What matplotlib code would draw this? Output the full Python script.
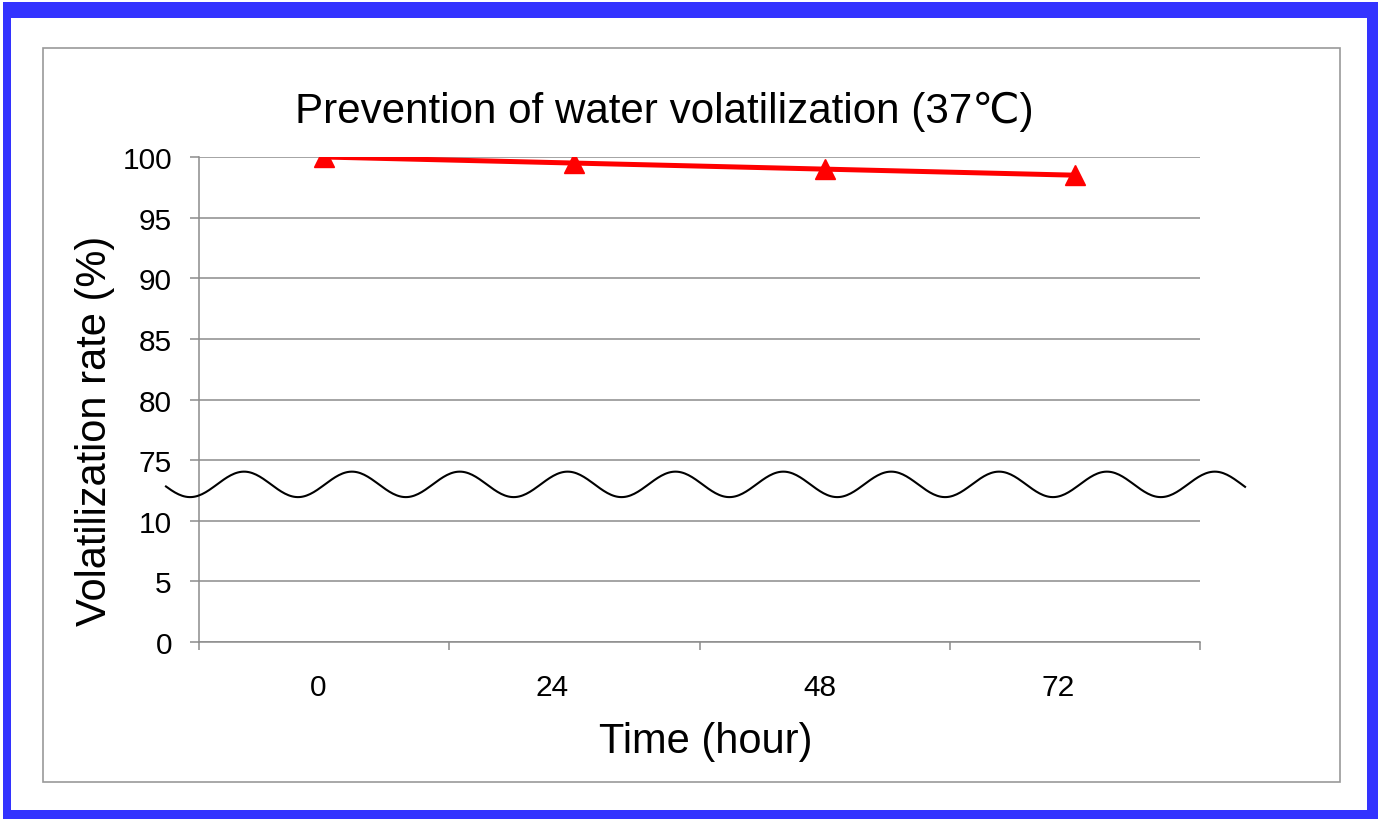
import numpy as np
import matplotlib
matplotlib.use('Agg')
import matplotlib.pyplot as plt
from matplotlib.patches import Rectangle
from matplotlib.transforms import ScaledTranslation

# ----------- Data -----------
hours = ['0', '24', '48', '72']
rate = [100, 99.5, 99.0, 98.5]
y_ticks = [0, 5, 10, 75, 80, 85, 90, 95, 100]

# ----------- Style -----------
plt.rcParams['font.family'] = ['Liberation Sans', 'DejaVu Sans']
W, H = 1378, 820
GREY = '#8c8c8c'
# the hour labels sit a little left of their categories in the original
label_shift_px = [-6, -22, -5, -17]


def broken(v):
    # the y axis is broken between 10 and 75, ticks evenly spaced
    return np.interp(v, y_ticks, np.arange(len(y_ticks)))


fig = plt.figure(figsize=(W / 100, H / 100), dpi=100)

# blue frame + grey chart border
fig.patches.append(Rectangle((3 / W, 0), 1 - 3 / W, 1 - 3 / H, transform=fig.transFigure,
                             facecolor='#3333ff', edgecolor='none', zorder=-3))
fig.patches.append(Rectangle((11 / W, 1 - 811 / H), (1367 - 11) / W, (811 - 19) / H,
                             transform=fig.transFigure, facecolor='white', edgecolor='none', zorder=-2))
fig.patches.append(Rectangle((43 / W, 1 - 783 / H), (1340 - 43) / W, (783 - 49) / H,
                             transform=fig.transFigure, facecolor='none', edgecolor='#999999',
                             linewidth=1.2, zorder=-1))

ax = fig.add_axes([199 / W, 1 - 643 / H, (1200 - 199) / W, (643 - 158) / H])
ax.set_facecolor('none')

x = np.arange(len(hours))
ax.plot(x, broken(rate), color='#ff0000', linewidth=3.6, marker='^', markersize=15, zorder=4)

ax.set_xlim(-0.5, len(hours) - 0.5)
ax.set_ylim(0, len(y_ticks) - 1)

ax.set_yticks(np.arange(len(y_ticks)))
ax.set_yticklabels([str(t) for t in y_ticks])
ax.set_xticks(x)
ax.set_xticklabels(hours)
ax.set_xticks(np.arange(-0.5, len(hours)), minor=True)

ax.tick_params(axis='y', direction='out', length=6.5, width=1.1, color=GREY, pad=13, labelsize=21.5)
ax.tick_params(axis='x', which='major', length=0, pad=22, labelsize=21.5)
ax.tick_params(axis='x', which='minor', direction='out', length=5.5, width=1.1, color=GREY)

for lbl, dx in zip(ax.get_xticklabels(), label_shift_px):
    lbl.set_transform(lbl.get_transform() + ScaledTranslation(dx / 100, 0, fig.dpi_scale_trans))

ax.grid(axis='y', color=GREY, linewidth=1.1)
ax.set_axisbelow(True)
for side in ['top', 'right']:
    ax.spines[side].set_visible(False)
for side in ['left', 'bottom']:
    ax.spines[side].set_color(GREY)
    ax.spines[side].set_linewidth(1.1)

# wavy break marker between 10 and 75
wx = np.linspace(-0.632, 3.68, 600)
wy = 2.6 + 0.21 * np.cos(2 * np.pi * (wx + 0.32) / 0.431)
ax.plot(wx, wy, color='black', linewidth=1.5, clip_on=False, zorder=5)

fig.text(664 / W, 1 - 123 / H, 'Prevention of water volatilization (37\u2103)',
         ha='center', va='baseline', fontsize=30.3)
fig.text(706 / W, 1 - 753 / H, 'Time (hour)', ha='center', va='baseline', fontsize=30)
fig.text(95 / W, 1 - 431 / H, 'Volatilization rate (%)', ha='center', va='center',
         rotation=90, fontsize=30)

fig.savefig('out.png', dpi=100)
